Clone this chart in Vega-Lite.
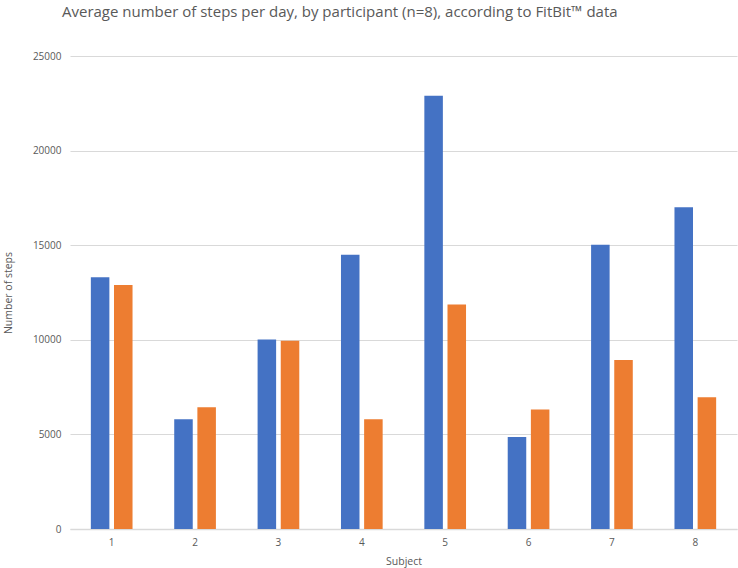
{
  "$schema": "https://vega.github.io/schema/vega-lite/v6.json",
  "autosize": "none",
  "width": 667,
  "height": 473,
  "padding": {"left": 70, "top": 56, "right": 1, "bottom": 39},
  "background": "white",
  "title": {
    "text": "Average number of steps per day, by participant (n=8), according to  FitBit™ data",
    "anchor": "start",
    "frame": "group",
    "dx": -8,
    "offset": 31,
    "font": "Open Sans",
    "fontSize": 15,
    "fontWeight": "normal",
    "color": "#595959"
  },
  "data": {
    "values": [
      {"Subject": "1", "Series": "Series1", "Steps": 13300},
      {"Subject": "1", "Series": "Series2", "Steps": 12900},
      {"Subject": "2", "Series": "Series1", "Steps": 5800},
      {"Subject": "2", "Series": "Series2", "Steps": 6430},
      {"Subject": "3", "Series": "Series1", "Steps": 10020},
      {"Subject": "3", "Series": "Series2", "Steps": 9950},
      {"Subject": "4", "Series": "Series1", "Steps": 14500},
      {"Subject": "4", "Series": "Series2", "Steps": 5800},
      {"Subject": "5", "Series": "Series1", "Steps": 22900},
      {"Subject": "5", "Series": "Series2", "Steps": 11870},
      {"Subject": "6", "Series": "Series1", "Steps": 4860},
      {"Subject": "6", "Series": "Series2", "Steps": 6320},
      {"Subject": "7", "Series": "Series1", "Steps": 15030},
      {"Subject": "7", "Series": "Series2", "Steps": 8930},
      {"Subject": "8", "Series": "Series1", "Steps": 17000},
      {"Subject": "8", "Series": "Series2", "Steps": 6960}
    ]
  },
  "mark": {"type": "bar"},
  "encoding": {
    "x": {
      "field": "Subject",
      "type": "nominal",
      "scale": {"paddingInner": 0.5, "paddingOuter": 0.25},
      "axis": {
        "title": "Subject",
        "labelAngle": 0,
        "labelFont": "Open Sans",
        "labelFontSize": 10,
        "labelColor": "#595959",
        "labelPadding": 8,
        "titleFont": "Open Sans",
        "titleFontSize": 10.5,
        "titleFontWeight": "normal",
        "titleColor": "#595959",
        "titlePadding": 9,
        "ticks": false,
        "domainColor": "#d9d9d9",
        "domainWidth": 1.5
      }
    },
    "xOffset": {
      "field": "Series",
      "scale": {"paddingInner": 0.2, "paddingOuter": 0}
    },
    "y": {
      "field": "Steps",
      "type": "quantitative",
      "scale": {"domain": [0, 25000], "nice": false},
      "axis": {
        "title": "Number of steps",
        "values": [0, 5000, 10000, 15000, 20000, 25000],
        "format": "d",
        "labelFont": "Open Sans",
        "labelFontSize": 10,
        "labelColor": "#595959",
        "labelPadding": 9,
        "titleFont": "Open Sans",
        "titleFontSize": 10.5,
        "titleFontWeight": "normal",
        "titleColor": "#595959",
        "titlePadding": 19,
        "ticks": false,
        "domain": false,
        "gridColor": "#d9d9d9",
        "gridWidth": 1
      }
    },
    "color": {
      "field": "Series",
      "scale": {"range": ["#4472C4", "#ED7D31"]},
      "legend": null
    }
  },
  "config": {"view": {"stroke": null}}
}
